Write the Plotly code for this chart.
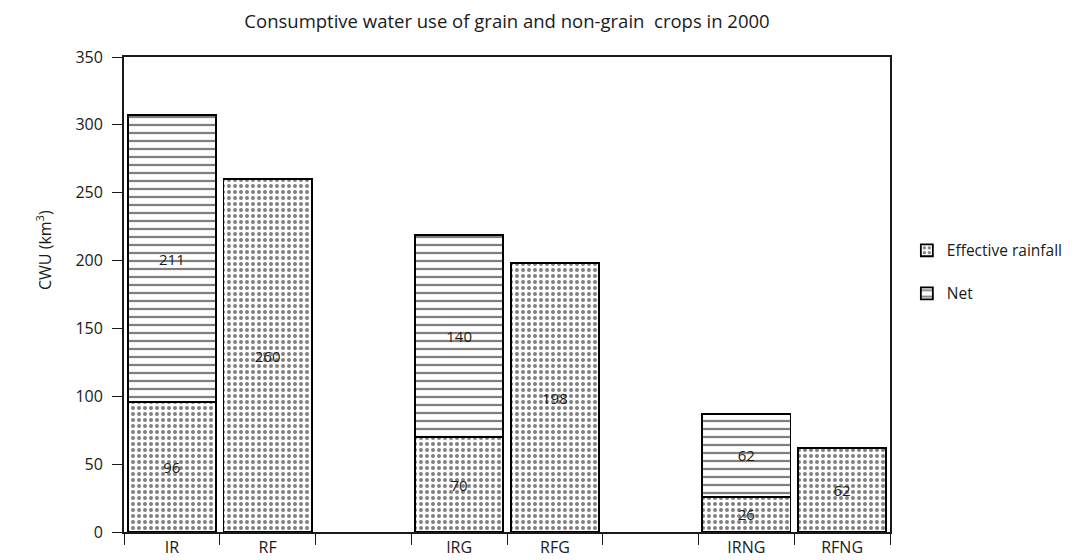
import plotly.graph_objects as go

categories = ["IR", "RF", " ", "IRG", "RFG", "  ", "IRNG", "RFNG"]
effective_rainfall = [96, 260, None, 70, 198, None, 26, 62]
effective_labels = ["96", "260", "", "70", "198", "", "26", "62"]
net = [211, None, None, 149, None, None, 61, None]
net_labels = ["211", "", "", "140", "", "", "62", ""]

FONT = "Open Sans"
INK = "#1a1a1a"

fig = go.Figure()
fig.add_trace(go.Bar(
    x=categories, y=effective_rainfall, name="Effective rainfall",
    text=effective_labels, textposition="inside", insidetextanchor="middle",
    textangle=0, textfont=dict(size=15, color=INK),
    marker=dict(color="white", line=dict(color="black", width=1.8),
                pattern=dict(shape=".", fgcolor="black", bgcolor="white",
                             size=6, solidity=0.35)),
    legendgroup="a",
))
fig.add_trace(go.Bar(
    x=categories, y=net, name="Net",
    text=net_labels, textposition="inside", insidetextanchor="middle",
    textangle=0, textfont=dict(size=15, color=INK),
    marker=dict(color="white", line=dict(color="black", width=1.8),
                pattern=dict(shape="-", fgcolor="black", bgcolor="white",
                             size=8, solidity=0.28)),
    legendgroup="b",
))

fig.update_layout(
    width=1072, height=560,
    barmode="stack", bargap=0.08,
    plot_bgcolor="white", paper_bgcolor="white",
    margin=dict(l=124, r=182, t=57, b=28, autoexpand=False),
    font=dict(family=FONT, size=15, color=INK),
    title=dict(text="Consumptive water use of grain and non-grain  crops in 2000",
               x=(124 + 890) / 2 / 1072, xanchor="center", y=0.961, yanchor="middle",
               font=dict(size=18.5, color=INK)),
    legend=dict(x=1.022, y=0.628, xanchor="left", yanchor="top",
                traceorder="grouped", tracegroupgap=20,
                font=dict(size=15.5), bgcolor="rgba(0,0,0,0)"),
    uniformtext=dict(mode=False),
    annotations=[dict(text="CWU (km<sup>3</sup>)", xref="paper", yref="paper",
                      x=(44 - 124) / 766, y=(532 - 250) / 475, textangle=-90,
                      showarrow=False, xanchor="center", yanchor="middle",
                      font=dict(size=16, color=INK))],
)
fig.update_xaxes(
    type="category", categoryorder="array", categoryarray=categories,
    showline=True, linecolor=INK, linewidth=1.6, mirror=True, automargin=False,
    ticks="outside", tickson="boundaries", ticklen=11, tickcolor=INK,
    showgrid=False, tickfont=dict(size=16),
)
fig.update_yaxes(
    range=[0, 350], dtick=50, showline=True, linecolor=INK, linewidth=1.8,
    mirror=True, automargin=False, ticks="outside", ticklen=10, tickcolor=INK,
    ticklabelstandoff=6,
    showgrid=False, zeroline=False, tickfont=dict(size=16),
)

fig.write_html(
    "out.html",
    config={"displayModeBar": False},
    post_script="document.body.style.margin='0';document.body.style.overflow='hidden';",
)
